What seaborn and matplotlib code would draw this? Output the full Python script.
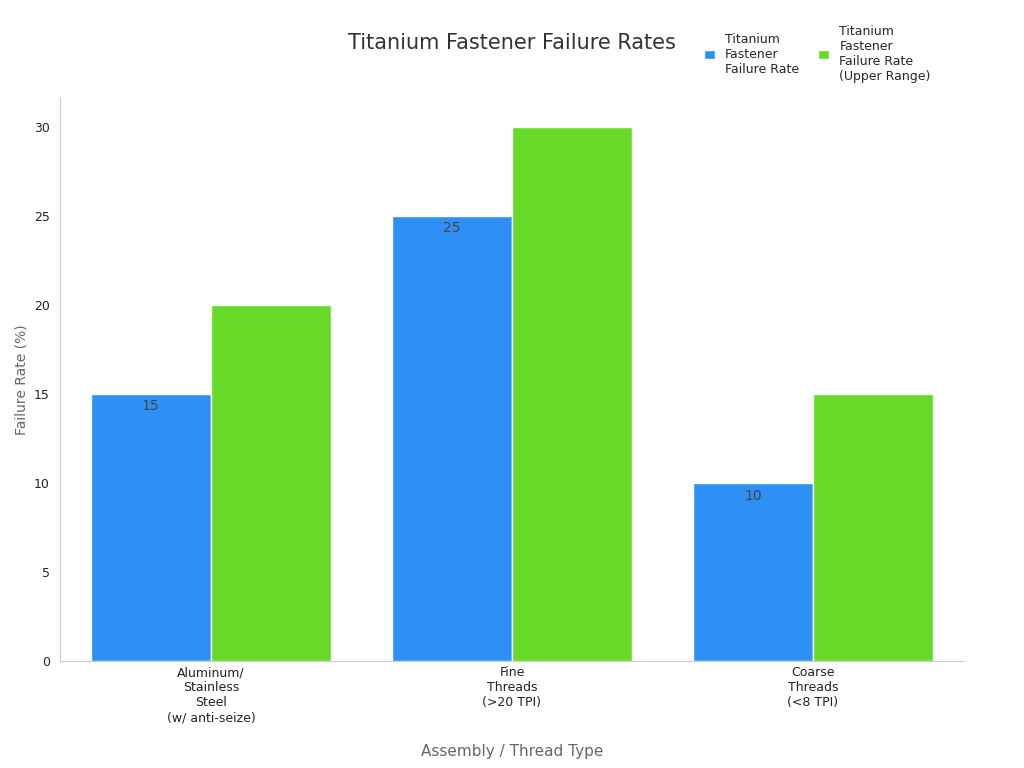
import pandas as pd
import matplotlib.pyplot as plt
import seaborn as sns

categories = ['Aluminum/\nStainless\nSteel\n(w/ anti-seize)', 'Fine\nThreads\n(>20 TPI)', 'Coarse\nThreads\n(<8 TPI)']
failure_rate = [15, 25, 10]
failure_upper = [20, 30, 15]
series = ['Titanium\nFastener\nFailure Rate', 'Titanium\nFastener\nFailure Rate\n(Upper Range)']
colors = ['#2E90F5', '#66DA26']

df = pd.DataFrame({
    'cat': categories * 2,
    'val': failure_rate + failure_upper,
    'series': [series[0]] * 3 + [series[1]] * 3,
})

sns.set_style('white')
fig = plt.figure(figsize=(10.24, 7.68), dpi=100)
ax = fig.add_axes([0.059, 0.139, 0.882, 0.733])
sns.barplot(data=df, x='cat', y='val', hue='series', palette=colors, ax=ax,
            width=0.8, edgecolor='white', linewidth=1, saturation=1)

ax.bar_label(ax.containers[0], labels=[str(v) for v in failure_rate], padding=-14,
             fontsize=10, color='#444444')

ax.set_ylim(0, 31.6)
ax.set_yticks([0, 5, 10, 15, 20, 25, 30])
ax.tick_params(axis='both', labelsize=9, colors='#222222', length=4)
ax.tick_params(axis='y', color='#999999')
ax.tick_params(axis='x', length=0)
ax.set_xlabel('Assembly / Thread Type', fontsize=11, color='#666666', labelpad=14)
ax.set_ylabel('Failure Rate (%)', fontsize=10, color='#666666')
for s in ['top', 'right']:
    ax.spines[s].set_visible(False)
for s in ['left', 'bottom']:
    ax.spines[s].set_color('#cccccc')

fig.text(0.5, 0.944, 'Titanium Fastener Failure Rates', ha='center', va='center',
         fontsize=15, color='#333333')
ax.legend(loc='upper left', bbox_to_anchor=(0.7, 1.13), ncol=2, frameon=False,
          fontsize=9, handlelength=0.9, handleheight=0.9, columnspacing=1.5,
          title=None)
sns.move_legend(ax, 'upper left', bbox_to_anchor=(0.7, 1.15), ncol=2, frameon=False,
                fontsize=9, title=None, handlelength=0.9, columnspacing=1.5)
fig.savefig('out.png', dpi=100)
